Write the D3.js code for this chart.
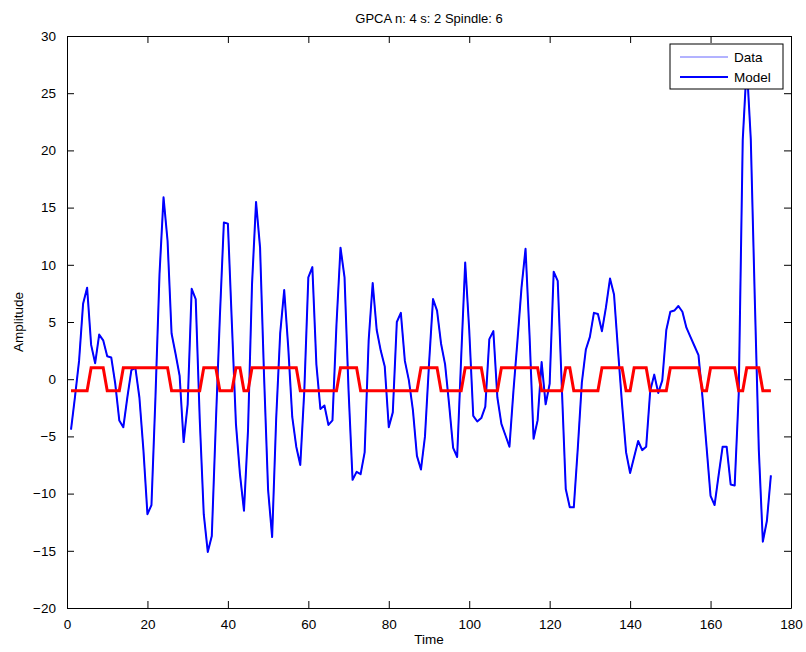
<!DOCTYPE html>
<html>
<head>
<meta charset="utf-8" />
<script src="https://d3js.org/d3.v7.min.js"></script>
<style>
  body { margin: 0; background: #fff; }
  svg { font-family: "Liberation Sans", Arial, sans-serif; }
</style>
</head>
<body>
<svg id="chart" width="806" height="652"></svg>
<script>
// Amplitude of the fitted signal, one value per time step (t = 1..175)
const amplitude = [
  -4.4, -1.5, 1.6, 6.6, 8.0, 3.0, 1.4, 3.9, 3.4, 2.0,
  1.9, -0.4, -3.6, -4.2, -1.6, 0.8, 1.0, -1.6, -6.2, -11.8,
  -11.0, -1.5, 9.2, 15.9, 12.1, 4.0, 2.2, 0.3, -5.5, -2.2,
  7.9, 7.0, -3.5, -11.8, -15.1, -13.7, -3.9, 5.4, 13.7, 13.6,
  4.8, -3.9, -8.3, -11.5, -4.5, 8.3, 15.5, 11.5, 0.2, -9.7,
  -13.8, -3.5, 4.0, 7.8, 2.8, -3.3, -5.9, -7.5, -1.0, 8.9,
  9.8, 1.3, -2.6, -2.3, -4.0, -3.6, 4.8, 11.5, 8.9, -1.0,
  -8.8, -8.1, -8.3, -6.4, 3.4, 8.4, 4.3, 2.5, 1.1, -4.2,
  -2.9, 5.0, 5.8, 1.6, -0.1, -2.7, -6.7, -7.9, -5.0, 1.3,
  7.0, 6.0, 3.1, 1.3, -2.2, -6.0, -6.8, 1.9, 10.2, 4.3,
  -3.2, -3.7, -3.4, -2.4, 3.5, 4.2, -1.6, -3.9, -4.9, -5.9,
  -1.0, 3.4, 8.0, 11.4, 3.8, -5.2, -3.6, 1.5, -2.2, -0.4,
  9.4, 8.6, -0.5, -9.6, -11.2, -11.2, -6.0, -0.3, 2.6, 3.7,
  5.8, 5.7, 4.2, 6.3, 8.8, 7.4, 2.5, -2.2, -6.4, -8.2,
  -6.8, -5.4, -6.2, -5.9, -1.0, 0.4, -1.2, -0.1, 4.3, 5.9,
  6.0, 6.4, 5.9, 4.5, 3.7, 2.9, 2.1, -1.6, -5.9, -10.2,
  -11.0, -8.4, -5.9, -5.9, -9.2, -9.3, -1.3, 20.9, 27.5, 21.0,
  7.0, -6.2, -14.2, -12.4, -8.4
];

// Spindle indicator (+1 inside a spindle, -1 outside)
const spindle = [
  -1, -1, -1, -1, -1, 1, 1, 1, 1, -1,
  -1, -1, -1, 1, 1, 1, 1, 1, 1, 1,
  1, 1, 1, 1, 1, -1, -1, -1, -1, -1,
  -1, -1, -1, 1, 1, 1, 1, -1, -1, -1,
  -1, 1, 1, -1, -1, 1, 1, 1, 1, 1,
  1, 1, 1, 1, 1, 1, 1, -1, -1, -1,
  -1, -1, -1, -1, -1, -1, -1, 1, 1, 1,
  1, 1, -1, -1, -1, -1, -1, -1, -1, -1,
  -1, -1, -1, -1, -1, -1, -1, 1, 1, 1,
  1, 1, -1, -1, -1, -1, -1, -1, 1, 1,
  1, 1, 1, -1, -1, -1, -1, 1, 1, 1,
  1, 1, 1, 1, 1, 1, 1, -1, -1, -1,
  -1, -1, -1, 1, 1, -1, -1, -1, -1, -1,
  -1, -1, 1, 1, 1, 1, 1, 1, -1, -1,
  1, 1, 1, 1, -1, -1, -1, -1, -1, 1,
  1, 1, 1, 1, 1, 1, 1, -1, -1, 1,
  1, 1, 1, 1, 1, 1, -1, -1, 1, 1,
  1, 1, -1, -1, -1
];

const xTicks = [0, 20, 40, 60, 80, 100, 120, 140, 160, 180];
const yTicks = [-20, -15, -10, -5, 0, 5, 10, 15, 20, 25, 30];
const legendLabels = ["Data", "Model"];

const margin = { top: 36, right: 15, bottom: 44, left: 67 };
const width = 806, height = 652;
const innerWidth = width - margin.left - margin.right;
const innerHeight = height - margin.top - margin.bottom;

const svg = d3.select("#chart");
const g = svg.append("g").attr("transform", `translate(${margin.left},${margin.top})`);

const x = d3.scaleLinear().domain([0, 180]).range([0, innerWidth]);
const y = d3.scaleLinear().domain([-20, 30]).range([innerHeight, 0]);

g.append("rect")
    .attr("width", innerWidth)
    .attr("height", innerHeight)
    .attr("fill", "#fff");

// clip lines to the axes box
svg.append("defs").append("clipPath").attr("id", "plotClip")
  .append("rect").attr("width", innerWidth).attr("height", innerHeight);

const line = d3.line()
    .x((d, i) => x(i + 1))
    .y(d => y(d));

const lines = g.append("g").attr("clip-path", "url(#plotClip)");

// raw data line (thin) under the model line
lines.append("path")
    .datum(amplitude)
    .attr("fill", "none")
    .attr("stroke", "#6666ff")
    .attr("stroke-width", 1)
    .attr("d", line);

lines.append("path")
    .datum(amplitude)
    .attr("fill", "none")
    .attr("stroke", "#0000ff")
    .attr("stroke-width", 2)
    .attr("stroke-linejoin", "round")
    .attr("d", line);

lines.append("path")
    .datum(spindle)
    .attr("fill", "none")
    .attr("stroke", "#ff0000")
    .attr("stroke-width", 3)
    .attr("d", line);

// axes, MATLAB style: ticks inside on all four sides
const tickLen = 7;
const axisFont = "13.5px";

const xBottom = g.append("g")
    .attr("transform", `translate(0,${innerHeight})`)
    .call(d3.axisBottom(x).tickValues(xTicks).tickSizeInner(-tickLen).tickSizeOuter(0).tickPadding(tickLen + 4));
const xTop = g.append("g")
    .call(d3.axisTop(x).tickValues(xTicks).tickSizeInner(-tickLen).tickSizeOuter(0).tickFormat(""));
const yLeft = g.append("g")
    .call(d3.axisLeft(y).tickValues(yTicks).tickSizeInner(-tickLen).tickSizeOuter(0).tickPadding(tickLen + 4));
const yRight = g.append("g")
    .attr("transform", `translate(${innerWidth},0)`)
    .call(d3.axisRight(y).tickValues(yTicks).tickSizeInner(-tickLen).tickSizeOuter(0).tickFormat(""));

[xBottom, xTop, yLeft, yRight].forEach(a => {
    a.select(".domain").attr("stroke", "#000").attr("stroke-width", 1);
    a.selectAll(".tick line").attr("stroke", "#000");
    a.selectAll("text").attr("fill", "#000").style("font-size", axisFont);
});

// title and axis labels
svg.append("text")
    .attr("x", margin.left + innerWidth / 2)
    .attr("y", 23)
    .attr("text-anchor", "middle")
    .style("font-size", "13px")
    .text("GPCA n: 4 s: 2 Spindle: 6");

svg.append("text")
    .attr("x", margin.left + innerWidth / 2)
    .attr("y", height - 8)
    .attr("text-anchor", "middle")
    .style("font-size", "13.5px")
    .text("Time");

svg.append("text")
    .attr("transform", `translate(23,${margin.top + innerHeight / 2}) rotate(-90)`)
    .attr("text-anchor", "middle")
    .style("font-size", "13.5px")
    .text("Amplitude");

// legend box (white, drawn on top of the lines)
const legend = svg.append("g").attr("transform", "translate(670,44)");
legend.append("rect")
    .attr("width", 113)
    .attr("height", 45)
    .attr("fill", "#fff")
    .attr("stroke", "#000")
    .attr("stroke-width", 1);

const legendColors = ["#6666ff", "#0000ff"];
const legendWidths = [1, 2];
legendLabels.forEach((label, i) => {
    const ly = 13 + i * 20;
    legend.append("line")
        .attr("x1", 10).attr("x2", 58)
        .attr("y1", ly).attr("y2", ly)
        .attr("stroke", legendColors[i])
        .attr("stroke-width", legendWidths[i]);
    legend.append("text")
        .attr("x", 64)
        .attr("y", ly)
        .attr("dy", "0.35em")
        .style("font-size", "13.5px")
        .text(label);
});
</script>
</body>
</html>
